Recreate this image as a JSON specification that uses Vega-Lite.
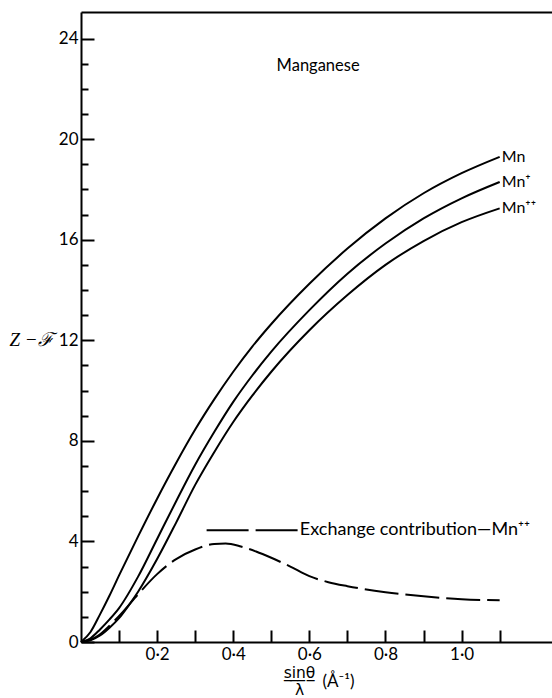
{
  "$schema": "https://vega.github.io/schema/vega-lite/v6.json",
  "width": 471,
  "height": 630,
  "autosize": {"type": "none"},
  "padding": {"left": 81, "top": 12, "right": 0, "bottom": 56},
  "background": "white",
  "config": {"view": {"stroke": null}, "font": "Lato"},
  "resolve": {"axis": {"x": "independent", "y": "independent"}},
  "datasets": {
    "curves": [
      {"s": "Mn", "x": 0, "y": 0}, {"s": "Mn", "x": 0.025, "y": 0.4}, {"s": "Mn", "x": 0.05, "y": 1.1}, {"s": "Mn", "x": 0.075, "y": 1.85}, {"s": "Mn", "x": 0.1, "y": 2.65}, {"s": "Mn", "x": 0.15, "y": 4.2}, {"s": "Mn", "x": 0.2, "y": 5.7}, {"s": "Mn", "x": 0.25, "y": 7.12}, {"s": "Mn", "x": 0.3, "y": 8.45}, {"s": "Mn", "x": 0.35, "y": 9.65}, {"s": "Mn", "x": 0.4, "y": 10.75}, {"s": "Mn", "x": 0.45, "y": 11.75}, {"s": "Mn", "x": 0.5, "y": 12.65}, {"s": "Mn", "x": 0.6, "y": 14.25}, {"s": "Mn", "x": 0.7, "y": 15.65}, {"s": "Mn", "x": 0.8, "y": 16.85}, {"s": "Mn", "x": 0.9, "y": 17.85}, {"s": "Mn", "x": 1.0, "y": 18.65}, {"s": "Mn", "x": 1.1, "y": 19.3},
      {"s": "Mn+", "x": 0, "y": 0}, {"s": "Mn+", "x": 0.025, "y": 0.15}, {"s": "Mn+", "x": 0.05, "y": 0.5}, {"s": "Mn+", "x": 0.075, "y": 0.9}, {"s": "Mn+", "x": 0.1, "y": 1.35}, {"s": "Mn+", "x": 0.15, "y": 2.6}, {"s": "Mn+", "x": 0.2, "y": 4.1}, {"s": "Mn+", "x": 0.25, "y": 5.6}, {"s": "Mn+", "x": 0.3, "y": 7.05}, {"s": "Mn+", "x": 0.35, "y": 8.35}, {"s": "Mn+", "x": 0.4, "y": 9.55}, {"s": "Mn+", "x": 0.45, "y": 10.6}, {"s": "Mn+", "x": 0.5, "y": 11.55}, {"s": "Mn+", "x": 0.6, "y": 13.2}, {"s": "Mn+", "x": 0.7, "y": 14.65}, {"s": "Mn+", "x": 0.8, "y": 15.85}, {"s": "Mn+", "x": 0.9, "y": 16.85}, {"s": "Mn+", "x": 1.0, "y": 17.65}, {"s": "Mn+", "x": 1.1, "y": 18.3},
      {"s": "Mn++", "x": 0, "y": 0}, {"s": "Mn++", "x": 0.025, "y": 0.07}, {"s": "Mn++", "x": 0.05, "y": 0.26}, {"s": "Mn++", "x": 0.075, "y": 0.57}, {"s": "Mn++", "x": 0.1, "y": 0.95}, {"s": "Mn++", "x": 0.125, "y": 1.45}, {"s": "Mn++", "x": 0.15, "y": 2.0}, {"s": "Mn++", "x": 0.2, "y": 3.3}, {"s": "Mn++", "x": 0.25, "y": 4.75}, {"s": "Mn++", "x": 0.3, "y": 6.25}, {"s": "Mn++", "x": 0.35, "y": 7.55}, {"s": "Mn++", "x": 0.4, "y": 8.75}, {"s": "Mn++", "x": 0.45, "y": 9.8}, {"s": "Mn++", "x": 0.5, "y": 10.75}, {"s": "Mn++", "x": 0.6, "y": 12.4}, {"s": "Mn++", "x": 0.7, "y": 13.8}, {"s": "Mn++", "x": 0.8, "y": 15.0}, {"s": "Mn++", "x": 0.9, "y": 15.95}, {"s": "Mn++", "x": 1.0, "y": 16.7}, {"s": "Mn++", "x": 1.1, "y": 17.25}
    ],
    "exchange": [
      {"x": 0, "y": 0}, {"x": 0.04, "y": 0.2}, {"x": 0.085, "y": 0.8}, {"x": 0.11, "y": 1.2}, {"x": 0.15, "y": 1.9}, {"x": 0.2, "y": 2.7}, {"x": 0.25, "y": 3.3}, {"x": 0.3, "y": 3.68}, {"x": 0.35, "y": 3.9}, {"x": 0.38, "y": 3.92}, {"x": 0.42, "y": 3.8}, {"x": 0.46, "y": 3.6}, {"x": 0.5, "y": 3.35}, {"x": 0.55, "y": 3.0}, {"x": 0.6, "y": 2.62}, {"x": 0.65, "y": 2.38}, {"x": 0.7, "y": 2.22}, {"x": 0.8, "y": 1.98}, {"x": 0.9, "y": 1.82}, {"x": 1.0, "y": 1.7}, {"x": 1.1, "y": 1.66}
    ],
    "legendline": [
      {"x": 0.33, "y": 4.45}, {"x": 0.57, "y": 4.45}
    ],
    "endlabels": [
      {"x": 1.1, "y": 19.3, "label": "Mn"},
      {"x": 1.1, "y": 18.3, "label": "Mn⁺"},
      {"x": 1.1, "y": 17.25, "label": "Mn⁺⁺"}
    ],
    "legendtext": [
      {"x": 0.575, "y": 4.45, "label": "Exchange contribution—Mn⁺⁺"}
    ],
    "heading": [
      {"x": 0.623, "y": 22.9, "label": "Manganese"}
    ]
  },
  "layer": [
    {
      "data": {"name": "curves"},
      "mark": {"type": "line", "color": "black", "strokeWidth": 2, "interpolate": "monotone"},
      "encoding": {
        "x": {"field": "x", "type": "quantitative",
          "scale": {"domain": [0, 1.2375], "nice": false, "zero": false},
          "axis": {"orient": "bottom", "values": [0.1, 0.2, 0.3, 0.4, 0.5, 0.6, 0.7, 0.8, 0.9, 1.0, 1.1],
            "labelExpr": "(round(datum.value*10) % 2 == 0 && datum.value < 1.05) ? replace(format(datum.value, '.1f'), '.', '·') : ''",
            "tickSize": -12, "tickWidth": 2, "tickColor": "black", "domainColor": "black", "domainWidth": 2,
            "labelFont": "Lato", "labelFontSize": 17, "labelColor": "black", "labelPadding": 16, "labelFlush": false, "labelOverlap": false,
            "grid": false,
            "title": ["s̲i̲n̲θ̲", "λ"], "titleFont": "DejaVu Sans", "titleFontSize": 15.5, "titleFontWeight": "normal", "titleColor": "black", "titleLineHeight": 17,
            "titleX": 218, "titleY": 35, "titleBaseline": "alphabetic", "titleAlign": "center"}},
        "y": {"field": "y", "type": "quantitative",
          "scale": {"domain": [0, 25.06], "nice": false, "zero": false},
          "axis": {"orient": "left", "values": [0, 4, 8, 12, 16, 20, 24], "ticks": false, "grid": false,
            "domainColor": "black", "domainWidth": 2,
            "labelFont": "Lato", "labelFontSize": 17, "labelColor": "black", "labelPadding": 3, "labelFlush": false, "labelOverlap": false,
            "title": "Z −ℱ", "titleFont": "Liberation Serif", "titleFontStyle": "italic", "titleFontSize": 19, "titleFontWeight": "normal", "titleColor": "black",
            "titleAngle": 0, "titleX": -50, "titleY": 327, "titleAlign": "center", "titleBaseline": "middle"}},
        "detail": {"field": "s"}
      }
    },
    {
      "data": {"name": "exchange"},
      "mark": {"type": "line", "color": "black", "strokeWidth": 2, "interpolate": "monotone", "strokeDash": [34, 7]},
      "encoding": {
        "x": {"field": "x", "type": "quantitative",
          "axis": {"orient": "top", "domain": true, "domainColor": "black", "domainWidth": 2, "ticks": false, "labels": false, "grid": false, "title": null}},
        "y": {"field": "y", "type": "quantitative",
          "axis": {"orient": "left", "values": [0, 4, 8, 12, 16, 20, 24], "tickSize": -13, "tickWidth": 2, "tickColor": "black", "labels": false, "domain": false, "grid": false, "title": null}}
      }
    },
    {
      "data": {"name": "legendline"},
      "mark": {"type": "line", "color": "black", "strokeWidth": 2, "strokeDash": [42, 7]},
      "encoding": {
        "x": {"field": "x", "type": "quantitative",
          "axis": {"orient": "bottom", "domain": false, "ticks": false, "labels": false, "grid": false,
            "title": "(Å⁻¹)", "titleFont": "Lato", "titleFontSize": 17, "titleFontWeight": "normal", "titleColor": "black",
            "titleX": 257, "titleY": 39, "titleBaseline": "middle", "titleAlign": "center"}},
        "y": {"field": "y", "type": "quantitative",
          "axis": {"orient": "left", "values": [1, 2, 3, 5, 6, 7, 9, 10, 11, 13, 14, 15, 17, 18, 19, 21, 22, 23], "tickSize": -7, "tickWidth": 2, "tickColor": "black", "labels": false, "domain": false, "grid": false, "title": null}}
      }
    },
    {
      "data": {"name": "endlabels"},
      "mark": {"type": "text", "align": "left", "baseline": "middle", "dx": 2, "fontSize": 16, "font": "Lato", "color": "black"},
      "encoding": {
        "x": {"field": "x", "type": "quantitative", "axis": null},
        "y": {"field": "y", "type": "quantitative", "axis": null},
        "text": {"field": "label"}
      }
    },
    {
      "data": {"name": "legendtext"},
      "mark": {"type": "text", "align": "left", "baseline": "middle", "fontSize": 18, "font": "Lato", "color": "black"},
      "encoding": {
        "x": {"field": "x", "type": "quantitative", "axis": null},
        "y": {"field": "y", "type": "quantitative", "axis": null},
        "text": {"field": "label"}
      }
    },
    {
      "data": {"name": "heading"},
      "mark": {"type": "text", "align": "center", "baseline": "middle", "fontSize": 16.5, "font": "Lato", "color": "black"},
      "encoding": {
        "x": {"field": "x", "type": "quantitative", "axis": null},
        "y": {"field": "y", "type": "quantitative", "axis": null},
        "text": {"field": "label"}
      }
    }
  ]
}
